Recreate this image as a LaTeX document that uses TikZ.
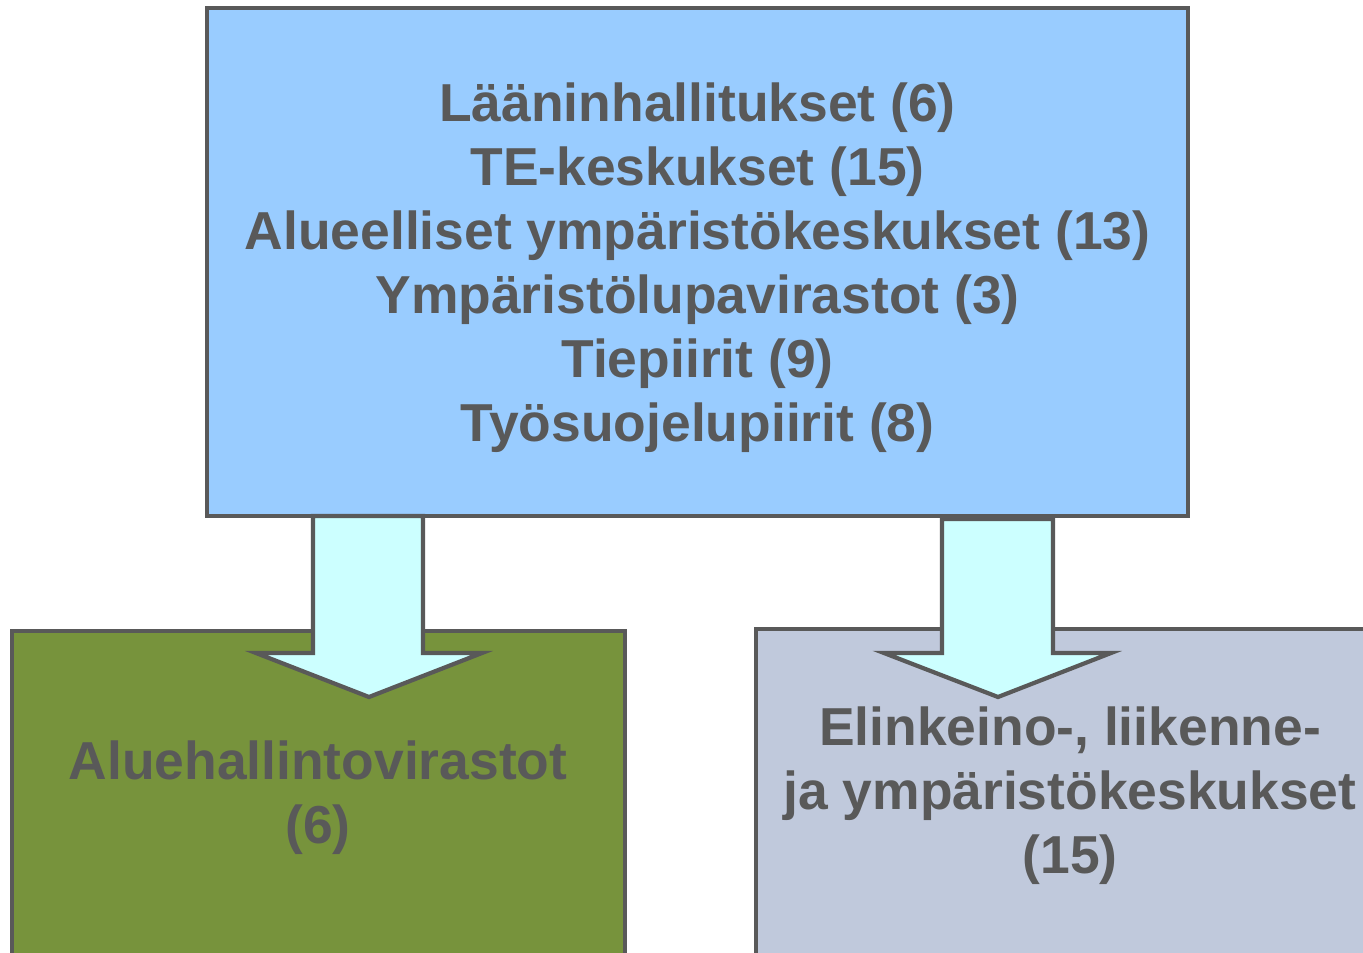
\documentclass[tikz,border=0pt]{standalone}
\usepackage{fontspec}
\setmainfont{Liberation Sans}
\definecolor{orgLine}{HTML}{595959}
\definecolor{orgText}{HTML}{595959}
\definecolor{orgBlue}{HTML}{99CCFF}
\definecolor{orgOlive}{HTML}{77933C}
\definecolor{orgGrey}{HTML}{C0C9DC}
\definecolor{orgCyan}{HTML}{CCFFFF}
\usetikzlibrary{calc,positioning}

\begin{document}
\begin{tikzpicture}[
  orgtext/.style={text=orgText, align=center, font=\fontsize{15.2}{18.2}\selectfont\bfseries},
  bigarrow/.style={draw=orgLine, line width=1.2pt, fill=orgCyan, line join=miter}
]
  \clip (0,0) rectangle (13.63,9.52);
  % top box -- old regional offices
  \fill[orgBlue] (2.07,4.36) rectangle (11.88,9.44);
  \draw[orgLine, line width=1.2pt] (2.07,4.36) rectangle (11.88,9.44);
  \node[orgtext] (old) at (6.975,6.84) {L\"a\"aninhallitukset (6)\\TE-keskukset (15)\\Alueelliset ymp\"arist\"okeskukset (13)\\Ymp\"arist\"olupavirastot (3)\\Tiepiirit (9)\\Ty\"osuojelupiirit (8)};
  % bottom left box
  \fill[orgOlive] (0.12,-0.2) rectangle (6.25,3.21);
  \draw[orgLine, line width=1.2pt] (0.12,-0.2) rectangle (6.25,3.21);
  \node[orgtext] (avi) at (3.18,1.54) {Aluehallintovirastot\\(6)};
  % bottom right box
  \fill[orgGrey] (7.56,-0.2) rectangle (13.9,3.23);
  \draw[orgLine, line width=1.2pt] (7.56,-0.2) rectangle (13.9,3.23);
  \node[orgtext] (ely) at (10.70,1.56) {Elinkeino-, liikenne-\\ja ymp\"arist\"okeskukset\\(15)};
  % block arrows
  \coordinate (aviTip) at (3.69,2.55);
  \coordinate (elyTip) at (9.98,2.55);
  \draw[bigarrow] (3.13,4.36) -- (4.23,4.36) -- (4.23,2.99) -- (4.82,2.99) -- (aviTip)
    -- (2.56,2.99) -- (3.13,2.99) -- cycle;
  \draw[bigarrow] (9.42,4.33) -- (10.53,4.33) -- (10.53,2.99) -- (11.11,2.99) -- (elyTip)
    -- (8.84,2.99) -- (9.42,2.99) -- cycle;
\end{tikzpicture}
\end{document}
